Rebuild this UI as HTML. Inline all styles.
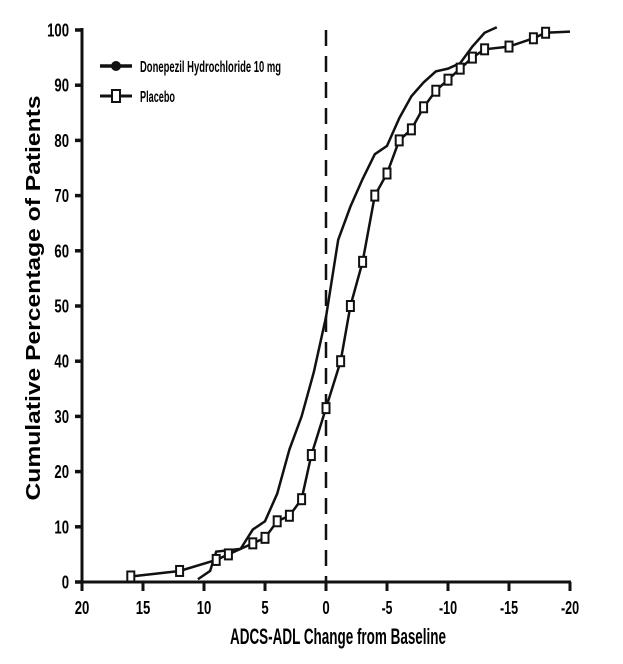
<!DOCTYPE html>
<html><head><meta charset="utf-8"><style>
body{margin:0;background:#fff;}
svg{display:block;font-family:"Liberation Sans",sans-serif;font-weight:bold;}
</style></head><body>
<svg width="623" height="664" viewBox="0 0 623 664">
<g id="axes"></g>
<g id="marks"></g>
<text transform="translate(40,298) rotate(-90)" text-anchor="middle" font-size="20" font-weight="bold" textLength="405" lengthAdjust="spacingAndGlyphs">Cumulative Percentage of Patients</text>
<text x="230" y="644" font-size="22" textLength="216" lengthAdjust="spacingAndGlyphs">ADCS-ADL Change from Baseline</text>
<g>
<line x1="100" y1="66" x2="132" y2="66" stroke="#111" stroke-width="3.5"/>
<circle cx="116" cy="66" r="5" fill="#111"/>
<text x="140" y="72" font-size="16" textLength="141" lengthAdjust="spacingAndGlyphs">Donepezil Hydrochloride 10 mg</text>
<line x1="100" y1="96" x2="132" y2="96" stroke="#111" stroke-width="3"/>
<rect x="112" y="90" width="8" height="12" fill="#fff" stroke="#111" stroke-width="2"/>
<text x="140" y="102" font-size="16" textLength="35" lengthAdjust="spacingAndGlyphs">Placebo</text>
</g>
</svg>
<script>
const xTicks=[20,15,10,5,0,-5,-10,-15,-20];
const yTicks=[0,10,20,30,40,50,60,70,80,90,100];
const donX=[10.5,9.5,9,7,6,5,4,3,2,1,0,-1,-2,-3,-4,-5,-6,-7,-8,-9,-10,-11,-12,-13,-14];
const donY=[0.5,2,5.5,6,9.5,11,16,24,30,38,48,62,68,73,77.5,79,84,88,90.5,92.5,93,94,97,99.5,100.5];
const plaX=[16,12,9,8,6,5,4,3,2,1.2,0,-1.2,-2,-3,-4,-5,-6,-7,-8,-9,-10,-11,-12,-13,-15,-17,-18];
const plaY=[1,2,4,5,7,8,11,12,15,23,31.5,40,50,58,70,74,80,82,86,89,91,93,95,96.5,97,98.5,99.5];
const plaEnd=[-20,99.7];
const NS="http://www.w3.org/2000/svg";
const xs=v=>326-12.2*v, ys=v=>582-5.52*v;
function mk(tag,attrs,parent){const e=document.createElementNS(NS,tag);for(const k in attrs)e.setAttribute(k,attrs[k]);parent.appendChild(e);return e;}
const ax=document.getElementById('axes'), mg=document.getElementById('marks');
let e=mk('line',{x1:82,y1:ys(100)-2,x2:82,y2:582,stroke:'#111','stroke-width':3},ax);


e=mk('line',{x1:80,y1:582,x2:xs(-20)+1,y2:582,stroke:'#111','stroke-width':3},ax);


yTicks.forEach(t=>{
 mk('line',{x1:75,y1:ys(t),x2:82,y2:ys(t),stroke:'#111','stroke-width':3.5},ax);
 const s=String(t);
 const tx=mk('text',{x:69,y:ys(t)+6.5,'text-anchor':'end','font-size':18,textLength:s.length*7.3,lengthAdjust:'spacingAndGlyphs'},ax);tx.textContent=s;
 
 
});
xTicks.forEach(t=>{
 mk('line',{x1:xs(t),y1:582,x2:xs(t),y2:591,stroke:'#111','stroke-width':3},ax);
 const s=t==0?'0':(t<0?'-'+(-t):String(t));
 const w=s.replace('-','').length*7.3+(s[0]=='-'?3.5:0);
 const tx=mk('text',{x:xs(t)-w/2,y:614,'font-size':18,textLength:w,lengthAdjust:'spacingAndGlyphs'},ax);tx.textContent=s;
 
 
});
e=mk('line',{x1:xs(0),y1:ys(100),x2:xs(0),y2:582,stroke:'#111','stroke-width':2.5,'stroke-dasharray':'16,10'},ax);


e=mk('polyline',{points:donX.map((x,i)=>xs(x)+','+ys(donY[i])).join(' '),fill:'none',stroke:'#111','stroke-width':2.5},mg);


const pp=plaX.map((x,i)=>xs(x)+','+ys(plaY[i]));pp.push(xs(plaEnd[0])+','+ys(plaEnd[1]));
e=mk('polyline',{points:pp.join(' '),fill:'none',stroke:'#111','stroke-width':2.5},mg);


plaX.forEach((x,i)=>{
 const r=mk('rect',{x:xs(x)-3.5,y:ys(plaY[i])-5,width:7,height:10,fill:'#fff',stroke:'#111','stroke-width':2},mg);
 
 
});
</script>
</body></html>
